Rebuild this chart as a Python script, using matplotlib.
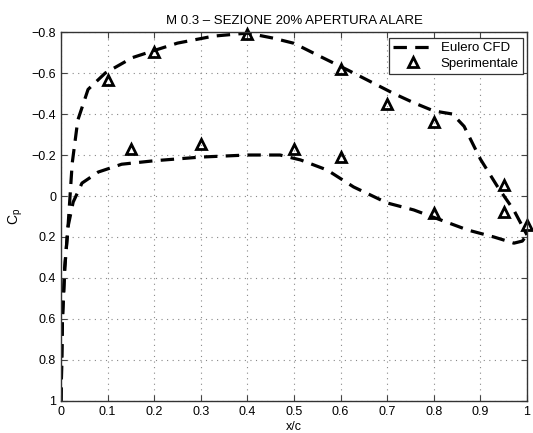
import numpy as np
import matplotlib
matplotlib.use("Agg")
import matplotlib.pyplot as plt

plt.rcParams['font.family'] = ['Liberation Sans', 'DejaVu Sans']

# Eulero CFD, dorso (upper surface)
x_cfd_up = [0.0, 0.003, 0.008, 0.015, 0.024, 0.036, 0.058, 0.095, 0.153, 0.2,
            0.25, 0.327, 0.4, 0.456, 0.5, 0.557, 0.615, 0.671, 0.714, 0.757,
            0.8, 0.84, 0.865, 0.9, 0.937, 0.972, 1.0]
cp_cfd_up = [1.0, 0.6, 0.35, 0.15, -0.16, -0.37, -0.52, -0.6, -0.675, -0.71,
             -0.746, -0.78, -0.795, -0.77, -0.745, -0.68, -0.615, -0.55, -0.5, -0.455,
             -0.415, -0.4, -0.34, -0.18, -0.045, 0.07, 0.19]

# Eulero CFD, ventre (lower surface)
x_cfd_lo = [0.0, 0.003, 0.008, 0.015, 0.026, 0.045, 0.08, 0.13, 0.2, 0.3,
            0.4, 0.47, 0.514, 0.571, 0.628, 0.7, 0.757, 0.815, 0.873, 0.929,
            0.972, 0.99, 1.0]
cp_cfd_lo = [1.0, 0.6, 0.35, 0.15, 0.03, -0.063, -0.117, -0.155, -0.172, -0.19,
             -0.2, -0.2, -0.176, -0.127, -0.044, 0.034, 0.068, 0.117, 0.166, 0.2,
             0.23, 0.22, 0.19]

# dati sperimentali
x_exp = [0.1, 0.2, 0.4, 0.6, 0.7, 0.8, 0.95, 1.0,
         0.15, 0.3, 0.5, 0.6, 0.8, 0.95]
cp_exp = [-0.565, -0.705, -0.79, -0.62, -0.45, -0.36, -0.055, 0.14,
          -0.23, -0.255, -0.23, -0.19, 0.085, 0.08]

xticks = [0, 0.1, 0.2, 0.3, 0.4, 0.5, 0.6, 0.7, 0.8, 0.9, 1]
yticks = [-0.8, -0.6, -0.4, -0.2, 0, 0.2, 0.4, 0.6, 0.8, 1]

fig = plt.figure(figsize=(5.33, 4.33), dpi=100)
ax = fig.add_axes([0.1145, 0.074, 0.8742, 0.852])

ax.plot(x_cfd_up, cp_cfd_up, 'k--', lw=2.3, dashes=(4.2, 2.6), label='Eulero CFD')
ax.plot(x_cfd_lo, cp_cfd_lo, 'k--', lw=2.3, dashes=(4.2, 2.6))
ax.plot(x_exp, cp_exp, '^', ms=7.5, mfc='none', mec='k', mew=2.0,
        ls='none', label='Sperimentale', clip_on=False)

ax.set_xlim(0, 1)
ax.set_ylim(1, -0.8)
ax.set_xticks(xticks)
ax.set_xticklabels([f'{t:g}' for t in xticks])
ax.set_yticks(yticks)
ax.set_yticklabels([f'{t:g}'.replace('-', '\u2212') for t in yticks])

ax.grid(True, ls=(0, (1, 4)), color='#888888', lw=0.8)
ax.tick_params(direction='in', top=True, right=True, length=4, labelsize=9,
               color='#444444', width=0.8)
for s in ax.spines.values():
    s.set_linewidth(1.0)
    s.set_color('#333333')

ax.set_title('M 0.3 \u2013 SEZIONE 20% APERTURA ALARE', fontsize=9.5, pad=6)
ax.set_xlabel('x/c', fontsize=9, labelpad=2)
ax.set_ylabel('$\\mathregular{C_p}$', fontsize=10, labelpad=5)

leg = ax.legend(loc='upper right', fontsize=9.5, fancybox=False, framealpha=1,
                edgecolor='#333333', handlelength=3.0, borderpad=0.3,
                labelspacing=0.25, handletextpad=0.6, borderaxespad=0.3,
                bbox_to_anchor=(0.999, 0.994))
leg.get_frame().set_linewidth(0.9)

fig.savefig('out.png', dpi=100)
